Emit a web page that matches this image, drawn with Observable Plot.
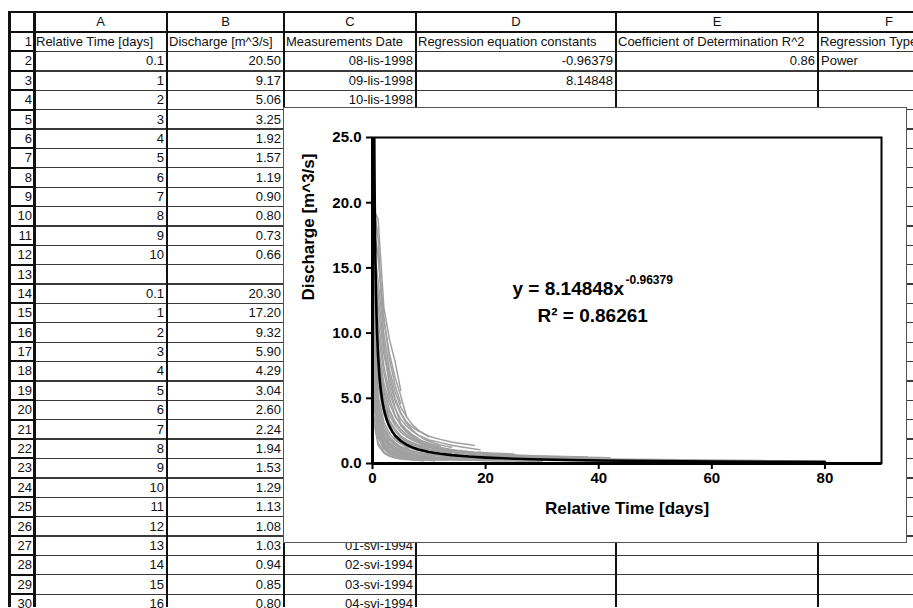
<!DOCTYPE html>
<html><head><meta charset="utf-8">
<script src="https://cdn.jsdelivr.net/npm/d3@7"></script>
<script src="https://cdn.jsdelivr.net/npm/@observablehq/plot@0.6"></script>
<style>
body{margin:0;background:#fff;width:913px;height:608px;overflow:hidden;position:relative;font-family:"Liberation Sans",Arial,sans-serif;}
#sheet{position:absolute;left:0;top:0;width:913px;height:608px;overflow:hidden;}
.cell{position:absolute;font-size:13px;white-space:nowrap;overflow:hidden;color:#111;box-sizing:border-box;padding:0 3px;}
.ln{position:absolute;}
#chart{position:absolute;left:284px;top:108px;width:622px;height:434px;background:#fff;outline:1px solid #555;}
#chart svg{display:block;}
</style></head><body>
<div id="sheet"></div>
<div id="chart"></div>
<script>
// ---------- spreadsheet content ----------
const columnLetters = ["A","B","C","D","E","F"];
const headerRow = ["Relative Time [days]","Discharge [m^3/s]","Measurements Date","Regression equation constants","Coefficient of Determination R^2","Regression Type"];
const colA = ["0.1","1","2","3","4","5","6","7","8","9","10","","0.1","1","2","3","4","5","6","7","8","9","10","11","12","13","14","15","16"];
const colB = ["20.50","9.17","5.06","3.25","1.92","1.57","1.19","0.90","0.80","0.73","0.66","","20.30","17.20","9.32","5.90","4.29","3.04","2.60","2.24","1.94","1.53","1.29","1.13","1.08","1.03","0.94","0.85","0.80"];
const colC = ["08-lis-1998","09-lis-1998","10-lis-1998","11-lis-1998","12-lis-1998","13-lis-1998","14-lis-1998","15-lis-1998","16-lis-1998","17-lis-1998","18-lis-1998","",
  "18-tra-1994","19-tra-1994","20-tra-1994","21-tra-1994","22-tra-1994","23-tra-1994","24-tra-1994","25-tra-1994","26-tra-1994","27-tra-1994","28-tra-1994","29-tra-1994","30-tra-1994","01-svi-1994","02-svi-1994","03-svi-1994","04-svi-1994"];
const colD = ["-0.96379","8.14848"];
const colE = ["0.86"];
const colF = ["Power"];

// ---------- chart content ----------
const relTime = [0.1,1,2,3,4,5,6,7,8,9,10,11,12,13,14,15,16,17,18,19,20,21,22,23,24,25,26,27,28,29,30,31,32,33,34,35,36,37,38,39,40];
const run01 = [20.50,9.17,5.06,3.25,1.92,1.57,1.19,0.90,0.80,0.73,0.66];
const run02 = [20.30,17.20,9.32,5.90,4.29,3.04,2.60,2.24,1.94,1.53,1.29,1.13,1.08,1.03,0.94,0.85,0.80];
const run03 = [19.6,18.7,12.0,9.5,7.8,5.6];
const run04 = [18.0,15.8,11.0,8.4,6.6,5.2,3.6];
const run05 = [16.0,13.0,9.0,6.8,5.0,3.9,3.2,2.8,2.5,2.3,2.1,1.95,1.85,1.75,1.65,1.58,1.52,1.45,1.38];
const run06 = [14.5,11.0,7.5,5.4,4.2,3.4,2.9,2.5,2.2,2.0,1.8,1.7,1.6,1.5,1.4,1.32,1.25,1.18,1.12,1.05];
const run07 = [12.0,8.0,5.5,4.0,3.1,2.6,2.2,1.9,1.7,1.5,1.35,1.25,1.15,1.05,0.98,0.92,0.86,0.82,0.78,0.74,0.71,0.68,0.65,0.63,0.61,0.59,0.57,0.55,0.54,0.52,0.51];
const run08 = [10.5,6.5,4.2,3.2,2.6,2.1,1.8,1.55,1.4,1.25,1.12,1.02,0.95,0.88,0.83,0.78,0.74,0.70,0.67,0.64,0.62,0.60,0.58,0.56,0.55,0.53,0.52,0.50,0.49,0.48,0.47,0.46,0.45,0.44,0.43,0.42,0.41,0.40,0.40,0.39,0.38];
const run09 = [9.0,4.5,2.6,1.8,1.4,1.1,0.9,0.78,0.68,0.60,0.54,0.50];
const run10 = [8.0,3.5,2.0,1.4,1.05,0.85,0.72,0.62,0.55,0.50,0.46,0.43,0.40,0.38,0.36];
const run11 = [7.2,3.0,1.6,1.1,0.85,0.70,0.60,0.52,0.46,0.42,0.38,0.35,0.33,0.31,0.30,0.28,0.27,0.26,0.25,0.24,0.23];
const run12 = [6.0,2.4,1.3,0.9,0.70,0.58,0.50,0.44,0.40,0.36,0.33,0.31,0.29];
const run13 = [17.0,14.0,10.0,7.2,5.5,4.3,3.6,3.0,2.6,2.3,2.05];
const run14 = [15.5,12.0,8.4,6.3,4.8,3.8,3.1,2.6,2.2,1.9,1.7,1.55,1.42,1.32,1.24];
const run15 = [13.5,10.0,7.0,5.0,3.7,2.9,2.4,2.05,1.8,1.6,1.45,1.33,1.23,1.15,1.08,1.02,0.97,0.93,0.89,0.86,0.83,0.80,0.78,0.76,0.74,0.72];
const run16 = [18.2,16.0,11.2,8.0,6.0,4.6];
const run17 = [14.0,9.0,6.2,4.6,3.6,3.0,2.5,2.15,1.9,1.7,1.55,1.43,1.33];
const run18 = [12.8,8.8,5.8,4.1,3.2,2.6,2.2,1.9,1.68,1.5,1.36,1.25,1.16,1.08,1.01,0.95,0.90,0.86,0.82,0.78,0.75,0.72,0.70,0.68,0.66];
const run19 = [10.0,6.8,4.5,3.3,2.5,2.0,1.7,1.45,1.28,1.15,1.05,0.97,0.90,0.84,0.79];
const run20 = [5.0,2.0,1.1,0.75,0.58,0.48,0.41,0.36,0.32,0.29,0.27];
const run21 = [7.5,2.6,1.4,0.95,0.72,0.60,0.52,0.46,0.41,0.38,0.35,0.33,0.31,0.29,0.28,0.27,0.26,0.25,0.24,0.23,0.22,0.21,0.20,0.20,0.19,0.19,0.18,0.18,0.17,0.17,0.16];
const run22 = [9.5,3.9,2.3,1.6,1.25,1.0,0.85,0.74,0.66,0.60,0.55];
const run23 = [8.5,4.0,2.5,1.85,1.45,1.2,1.02,0.90,0.80,0.72,0.66,0.61,0.57,0.53,0.50,0.47,0.45,0.43,0.41,0.40];
const run24 = [11.0,7.4,5.0,3.7,2.9,2.4,2.05,1.8,1.6,1.45,1.33];
const run25 = [6.5,3.2,1.9,1.3,1.0,0.82,0.70,0.61,0.54,0.49,0.45,0.42,0.39,0.37,0.35,0.33,0.32];
const run26 = [4.0,1.6,0.9,0.62,0.48,0.40,0.35,0.31,0.28,0.26,0.24,0.22];
const run27 = [5.5,2.2,1.2,0.82,0.63,0.52,0.45,0.40,0.36,0.33,0.30,0.28,0.26,0.25];
const run28 = [6.8,2.8,1.55,1.05,0.80,0.66,0.56,0.49,0.44,0.40,0.37,0.34,0.32,0.30,0.29,0.28,0.27];
const run29 = [3.5,1.4,0.8,0.55,0.42,0.35,0.30,0.27,0.24,0.22];
const run30 = [8.8,3.6,2.1,1.5,1.15,0.93,0.80,0.70,0.62,0.56,0.52,0.48,0.45,0.42,0.40,0.38,0.36,0.35,0.34,0.33,0.32,0.31,0.30];
const run31 = [7.8,3.1,1.8,1.25,0.96,0.78,0.66,0.58,0.52,0.47,0.43,0.40,0.37,0.35,0.33];
const run32 = [10.2,4.8,2.9,2.05,1.6,1.3,1.1,0.96,0.85,0.77,0.70,0.65,0.60,0.56];
const long01 = [[0.1,10.5],[1,5.2],[2,3.2],[3,2.3],[4,1.8],[5,1.5],[6,1.28],[8,1.0],[10,0.85],[12,0.74],[15,0.64],[20,0.54],[25,0.47],[30,0.42],[35,0.38],[40,0.35],[45,0.32],[50,0.30],[55,0.28],[60,0.26],[65,0.24],[70,0.22],[75,0.21],[80,0.20]];
const long02 = [[0.1,7.0],[1,3.3],[2,2.0],[3,1.4],[4,1.1],[5,0.9],[6,0.78],[8,0.62],[10,0.52],[12,0.46],[15,0.40],[20,0.33],[25,0.28],[30,0.25],[35,0.22],[40,0.20],[50,0.17],[60,0.14],[70,0.12],[80,0.10]];
const long03 = [[0.1,12.0],[1,6.0],[2,3.8],[3,2.8],[4,2.2],[5,1.85],[6,1.6],[8,1.3],[10,1.1],[12,0.97],[15,0.84],[20,0.70],[25,0.61],[30,0.55],[35,0.50],[40,0.46],[42,0.45]];
const long04 = [[0.1,9.0],[1,4.2],[2,2.6],[3,1.9],[4,1.5],[5,1.25],[6,1.08],[8,0.86],[10,0.72],[12,0.63],[15,0.55],[20,0.46],[25,0.40],[30,0.36],[35,0.33],[40,0.30],[45,0.28],[50,0.26],[55,0.24],[60,0.22],[65,0.20]];
const long05 = [[0.1,13.0],[1,7.5],[2,4.6],[3,3.3],[4,2.6],[5,2.1],[6,1.8],[8,1.45],[10,1.22],[12,1.08],[15,0.93],[18,0.82],[22,0.72],[26,0.64],[30,0.58],[34,0.53],[38,0.49]];
const fitA = 8.14848, fitB = -0.96379;
const fitX = [0.1,0.15,0.2,0.25,0.3,0.35,0.4,0.5,0.6,0.7,0.8,1,1.25,1.5,1.75,2,2.5,3,3.5,4,5,6,7,8,10,12,14,17,20,25,30,35,40,50,60,70,80];
const xTicks = [0,20,40,60,80];
const yTicks = [0,5,10,15,20,25];
const xTitle = "Relative Time [days]";
const yTitle = "Discharge [m^3/s]";
const eqMain = "y = 8.14848x";
const eqExp = "-0.96379";
const eqR2 = "R² = 0.86261";

// ---------- draw spreadsheet ----------
const sheet = document.getElementById("sheet");
const colEdges = [9, 34, 167, 284, 416, 616, 818, 960];
const top0 = 12, headH = 20, rowH = 19.38, nRows = 30;
function el(cls, css, txt){const d=document.createElement("div");d.className=cls;Object.assign(d.style,css);if(txt!=null)d.textContent=txt;sheet.appendChild(d);return d;}
function rowTop(r){return top0+headH+(r-1)*rowH;}
columnLetters.forEach((c,i)=>el("cell",{left:colEdges[i+1]+"px",width:(colEdges[i+2]-colEdges[i+1])+"px",top:top0+"px",height:headH+"px",lineHeight:headH+"px",textAlign:"center"},c));
for(let r=1;r<=nRows;r++) el("cell",{left:colEdges[0]+"px",width:(colEdges[1]-colEdges[0])+"px",top:rowTop(r)+"px",height:rowH+"px",lineHeight:rowH+"px",textAlign:"right",padding:"0 2px 0 0"},String(r));
headerRow.forEach((t,i)=>el("cell",{left:colEdges[i+1]+"px",width:(colEdges[i+2]-colEdges[i+1])+"px",top:rowTop(1)+"px",height:rowH+"px",lineHeight:rowH+"px",textAlign:"left",padding:"0 2px"},t));
[colA,colB,colC,colD,colE,colF].forEach((col,i)=>{
  col.forEach((t,k)=>{ if(!t) return; const r=k+2;
    el("cell",{left:colEdges[i+1]+"px",width:(colEdges[i+2]-colEdges[i+1])+"px",top:rowTop(r)+"px",height:rowH+"px",lineHeight:(rowH+1)+"px",textAlign:i===5?"left":"right"},t);
  });
});
for(let r=1;r<=nRows+1;r++){
  const y=rowTop(r);
  el("ln",{left:colEdges[1]+"px",top:(y-0.5)+"px",width:(960-colEdges[1])+"px",height:"1.3px",background:"#3a3a3a"});
  el("ln",{left:colEdges[0]+"px",top:(y-1)+"px",width:(colEdges[1]-colEdges[0])+"px",height:"2px",background:"#111"});
}
el("ln",{left:colEdges[0]+"px",top:(top0-1)+"px",width:(960-colEdges[0])+"px",height:"2px",background:"#111"});
el("ln",{left:colEdges[0]+"px",top:(top0+headH-1)+"px",width:(960-colEdges[0])+"px",height:"2px",background:"#111"});
colEdges.slice(0,7).forEach((x,i)=>el("ln",{left:(x-1)+"px",top:(top0-1)+"px",width:(i<2?2.5:2)+"px",height:(608-top0)+"px",background:"#111"}));

// ---------- draw chart ----------
const runs = [];
[run01,run02,run03,run04,run05,run06,run07,run08,run09,run10,run11,run12,run13,run14,run15,run16,run17,run18,run19,run20,run21,run22,run23,run24,run25,run26,run27,run28,run29,run30,run31,run32]
  .forEach((vals,k)=>vals.forEach((q,i)=>runs.push({run:"d"+k,t:relTime[i],q})));
[long01,long02,long03,long04,long05].forEach((pairs,k)=>pairs.forEach(([t,q])=>runs.push({run:"l"+k,t,q})));
const fit = fitX.map(t=>({t,q:fitA*Math.pow(t,fitB)}));

const font = "'Liberation Sans', Arial, sans-serif";
const chart = Plot.plot({
  width: 622, height: 434,
  marginLeft: 88, marginRight: 25, marginTop: 29, marginBottom: 79,
  x: {domain: [0, 90]},
  y: {domain: [0, 25]},
  style: {fontFamily: font, fontSize: "15px", fontWeight: "bold", background: "white", color: "black", overflow: "visible"},
  marks: [
    Plot.line(runs, {x: "t", y: "q", z: "run", stroke: "#a0a0a0", strokeWidth: 1.5, clip: true}),
    Plot.line(fit, {x: "t", y: "q", stroke: "black", strokeWidth: 2.6, clip: true}),
    Plot.frame({stroke: "black", strokeWidth: 2}),
    Plot.ruleX([0], {stroke: "black", strokeWidth: 3}),
    Plot.ruleY([0], {stroke: "black", strokeWidth: 3}),
    Plot.axisY({ticks: yTicks, tickFormat: d3.format(".1f"), tickSize: 6, tickPadding: 5, strokeWidth: 2, label: null, fontSize: 15, fontWeight: "bold"}),
    Plot.axisX({ticks: xTicks, tickFormat: d3.format("d"), tickSize: 6, tickPadding: 3, strokeWidth: 2, label: null, fontSize: 15, fontWeight: "bold"}),
    Plot.text([yTitle], {text: d => d, frameAnchor: "left", dx: -64, rotate: -90, fontSize: 17, fontWeight: "bold", fill: "black"}),
    Plot.text([xTitle], {text: d => d, frameAnchor: "bottom", dy: 45, lineAnchor: "middle", fontSize: 17, fontWeight: "bold", fill: "black"}),
    Plot.text([eqMain], {text: d => d, frameAnchor: "top-left", dx: 140, dy: 151, textAnchor: "start", lineAnchor: "middle", fontSize: 19, fontWeight: "bold", fill: "black"}),
    Plot.text([eqExp], {text: d => d, frameAnchor: "top-left", dx: 253, dy: 143, textAnchor: "start", lineAnchor: "middle", fontSize: 12, fontWeight: "bold", fill: "black"}),
    Plot.text([eqR2], {text: d => d, frameAnchor: "top-left", dx: 165, dy: 178, textAnchor: "start", lineAnchor: "middle", fontSize: 19, fontWeight: "bold", fill: "black"})
  ]
});
document.getElementById("chart").appendChild(chart);
</script></body></html>
